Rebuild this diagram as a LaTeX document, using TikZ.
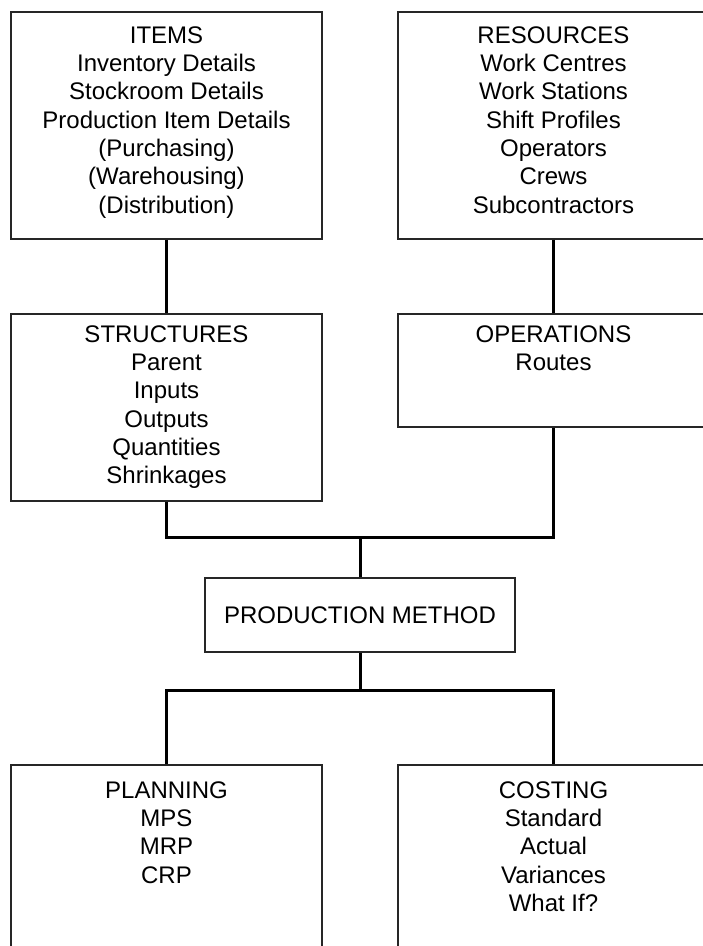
\documentclass[tikz,border=0pt]{standalone}
\usepackage{fontspec}
\setmainfont{Liberation Sans}
\usetikzlibrary{positioning}
\begin{document}
\begin{tikzpicture}[x=1pt,y=-1pt,
box/.style={draw=black!85,line width=1.2pt,minimum width=311pt,inner sep=0pt},
txt/.style={align=center,inner sep=0pt,font=\fontsize{24}{28.3}\selectfont},
bus/.style={line width=3pt}]
\useasboundingbox(0,0)rectangle(703,946);
\clip(0,0)rectangle(703,946);
\fill[white](0,0)rectangle(703,946);
% boxes
\node[box,minimum height=227pt](items)at(166.5,125.5){};
\node[box,minimum height=227pt](resources)at(553.5,125.5){};
\node[box,minimum height=187pt](structures)at(166.5,407.5){};
\node[box,minimum height=113pt](operations)at(553.5,370.5){};
\node[box,minimum width=310pt,minimum height=74pt](method)at(360,615){};
\node[box,minimum height=200pt](planning)at(166.5,865){};
\node[box,minimum height=200pt](costing)at(553.5,865){};
% texts
\node[txt,below=15pt of items.north](itemstxt){ITEMS\\Inventory Details\\Stockroom Details\\Production Item Details\\(Purchasing)\\(Warehousing)\\(Distribution)};
\node[txt,below=15pt of resources.north](resourcestxt){RESOURCES\\Work Centres\\Work Stations\\Shift Profiles\\Operators\\Crews\\Subcontractors};
\node[txt,below=12pt of structures.north](structurestxt){STRUCTURES\\Parent\\Inputs\\Outputs\\Quantities\\Shrinkages};
\node[txt,below=12pt of operations.north](operationstxt){OPERATIONS\\Routes};
\node[txt](methodtxt)at(method){PRODUCTION METHOD};
\node[txt,below=17pt of planning.north](planningtxt){PLANNING\\MPS\\MRP\\CRP};
\node[txt,below=17pt of costing.north](costingtxt){COSTING\\Standard\\Actual\\Variances\\What If?};
% connectors
\coordinate(busup)at(360,537);
\coordinate(busdown)at(360,690);
\draw[bus](items.south)--(structures.north);
\draw[bus](resources.south)--(operations.north);
\draw[bus](structures.south)|-(busup)-|(operations.south);
\draw[bus](busup)--(method.north);
\draw[bus](method.south)--(busdown);
\draw[bus](planning.north)|-(busdown)-|(costing.north);
\end{tikzpicture}
\end{document}
